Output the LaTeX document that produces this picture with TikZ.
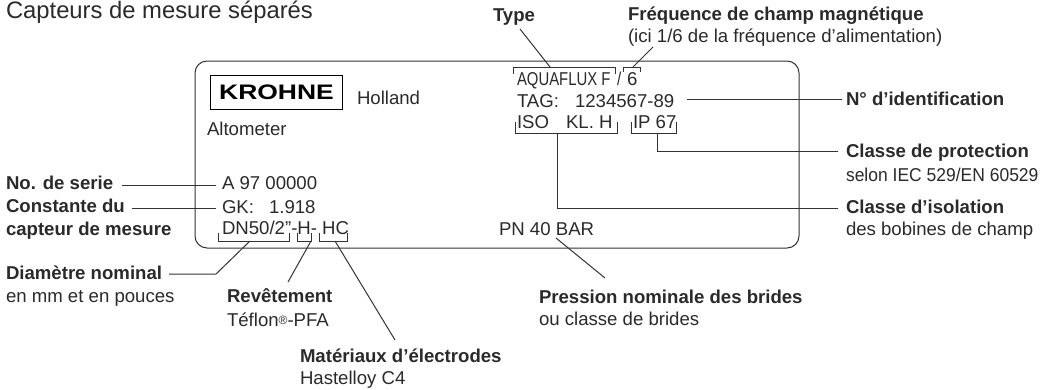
\documentclass[tikz,border=0pt]{standalone}
\usepackage{fontspec}
\setmainfont{Liberation Sans}
\newfontfamily\cond[FakeStretch=0.8]{Liberation Sans}
\newfontfamily\logof[FakeStretch=1.26]{Liberation Sans}
\newfontfamily\tight[FakeStretch=0.94]{Liberation Sans}
\definecolor{txt}{HTML}{2A2A2A}
\definecolor{linec}{HTML}{333333}
\tikzset{
  x=1pt,y=-1pt,
  lbl/.style={anchor=base west,inner sep=0pt,outer sep=0pt,text=txt,font=\fontsize{18.6}{20}\selectfont},
  blbl/.style={lbl,font=\fontsize{18.6}{20}\selectfont\bfseries},
  ln/.style={draw=linec,line width=1pt},
  brk/.style={draw=linec,line width=0.9pt},
}
\begin{document}
\begin{tikzpicture}
\useasboundingbox (0,0) rectangle (1048,389);
\node[lbl,font=\fontsize{23.8}{26}\selectfont] (title) at (6,18) {Capteurs de mesure séparés};
\draw[draw=linec,line width=1pt,rounded corners=12pt] (195,61) rectangle (799,248);
\node[draw=black,line width=1pt,minimum width=132pt,minimum height=34pt,inner sep=0pt,anchor=north west,font=\fontsize{21}{23}\selectfont\logof\bfseries,text=black] (logo) at (210,75) {KROHNE};
\node[lbl] (holland) at (357,104) {Holland};
\node[lbl] (alto) at (207,135) {Altometer};
% plate texts
\node[lbl,font=\fontsize{18.6}{20}\selectfont\cond] (aqua) at (517,85) {AQUAFLUX F};
\node[lbl,font=\fontsize{18.6}{20}\selectfont\cond] (slash) at (617,85) {/};
\node[lbl] (six) at (627,85) {6};
\node[lbl] (tag) at (517,107) {TAG:\hspace{16pt}1234567-89};
\node[lbl] (iso) at (517,128) {ISO\hspace{17pt}KL. H};
\node[lbl] (ip) at (633,128) {IP 67};
\node[lbl] (serial) at (222,189) {A 97 00000};
\node[lbl] (gk) at (222,213) {GK:\hspace{15pt}1.918};
\node[lbl] (dn) at (222,234) {DN50/2”-H- HC};
\node[lbl] (pn) at (499,235) {PN 40 BAR};
% outer labels
\node[blbl] (type) at (493,21) {Type};
\node[blbl] (freq) at (628,20) {Fréquence de champ magnétique};
\node[lbl] (freqb) at (628,42) {(ici 1/6 de la fréquence d’alimentation)};
\node[blbl] (ident) at (846,105) {N° d’identification};
\node[blbl] (prot) at (846,157) {Classe de protection};
\node[lbl,font=\fontsize{18.6}{20}\selectfont\tight] (protb) at (846,181) {selon IEC 529/EN 60529};
\node[blbl] (isol) at (846,213) {Classe d’isolation};
\node[lbl] (isolb) at (846,235) {des bobines de champ};
\node[blbl] (noserie) at (6,189) {No. de serie};
\node[blbl] (const) at (6,212) {Constante du};
\node[blbl] (constb) at (6,235) {capteur de mesure};
\node[blbl] (diam) at (6,279) {Diamètre nominal};
\node[lbl] (diamb) at (6,302) {en mm et en pouces};
\node[blbl] (rev) at (227,302) {Revêtement};
\node[lbl] (revb) at (227,326) {Téflon{\fontsize{12}{12}\selectfont\raisebox{2pt}{®}}-PFA};
\node[blbl] (mat) at (300,362) {Matériaux d’électrodes};
\node[lbl] (matb) at (300,384) {Hastelloy C4};
\node[blbl] (pres) at (539,303) {Pression nominale des brides};
\node[lbl] (presb) at (539,325) {ou classe de brides};
% brackets
\coordinate (ba) at (550,67); \coordinate (bs) at (633,67);
\coordinate (bi) at (557,133); \coordinate (bp) at (657,133);
\coordinate (bd) at (250,241); \coordinate (bh) at (311,241); \coordinate (bc) at (335,241);
\draw[brk] (513,74)--(513,67)--(615,67)--(615,74);
\draw[brk] (623,72)--(623,67)--(640,67)--(640,72);
\draw[brk] (515,122)--(515,133)--(617,133)--(617,122);
\draw[brk] (631,122)--(631,133)--(676,133)--(676,122);
\draw[brk] (218,233)--(218,241)--(289,241)--(289,233);
\draw[brk] (297,233)--(297,241)--(311,241)--(311,233);
\draw[brk] (319,233)--(319,241)--(347,241)--(347,233);
% connectors
\draw[ln] (520,29)--(ba);
\draw[ln] (653,47)--(bs);
\draw[ln] (687,99)--(842,99);
\draw[ln] (bp)--(657,151)--(838,151);
\draw[ln] (bi)--(557,208)--(838,208);
\draw[ln] (122,185)--(216,185);
\draw[ln] (132,208)--(216,208);
\draw[ln] (bd)--(216,274)--(169,274);
\draw[ln] (bh)--(288,282);
\draw[ln] (bc)--(395,340);
\draw[ln] (556,238)--(605,278);
\end{tikzpicture}
\end{document}
